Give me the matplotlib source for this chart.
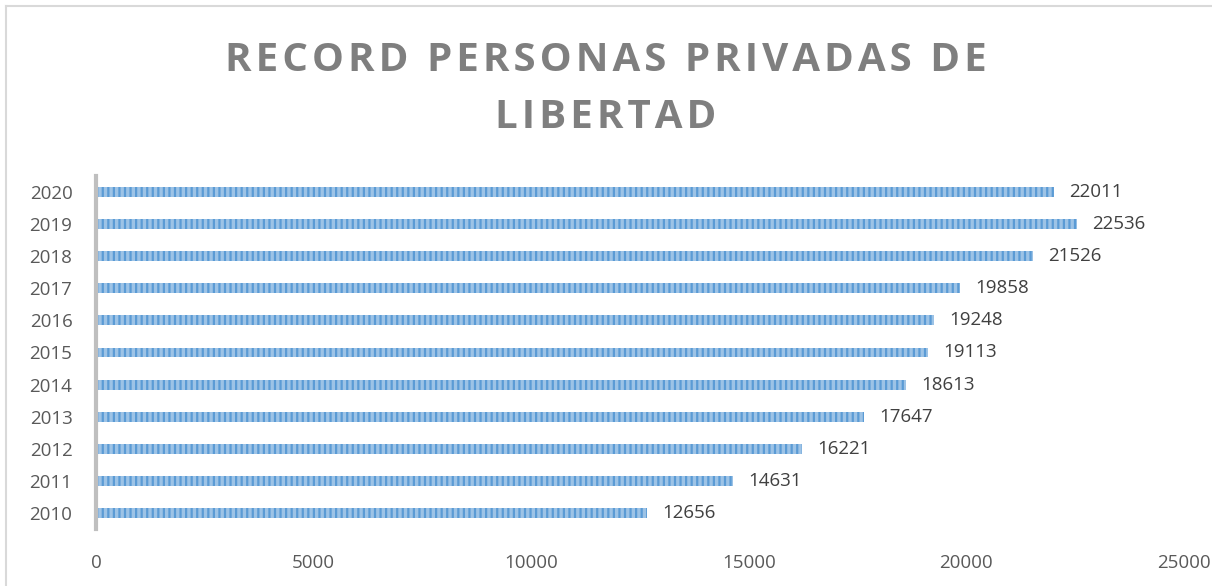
import matplotlib.pyplot as plt
from matplotlib.lines import Line2D

years = ['2010', '2011', '2012', '2013', '2014', '2015', '2016', '2017', '2018', '2019', '2020']
values = [12656, 14631, 16221, 17647, 18613, 19113, 19248, 19858, 21526, 22536, 22011]
xticks = [0, 5000, 10000, 15000, 20000, 25000]
title_lines = ['RECORD PERSONAS PRIVADAS DE', 'LIBERTAD']

plt.rcParams['font.family'] = ['Open Sans', 'DejaVu Sans']
plt.rcParams['hatch.linewidth'] = 1.6

fig = plt.figure(figsize=(12.12, 5.86), dpi=100)
ax = fig.add_axes([0.0792, 0.0973, 0.8977, 0.6024])

ax.barh(range(len(years)), values, height=0.31, color='#9DC3E6',
        edgecolor='#5B9BD5', hatch='|||', linewidth=0)
for i, v in enumerate(values):
    ax.annotate(str(v), (v, i), xytext=(11, 0), textcoords='offset points',
                va='center', ha='left', fontsize=13.5, color='#404040')

ax.set_xlim(0, 25000)
ax.set_ylim(-0.5, len(years) - 0.5)
ax.set_xticks(xticks)
ax.set_xticklabels([str(t) for t in xticks])
ax.set_yticks(range(len(years)))
ax.set_yticklabels(years)
ax.tick_params(axis='both', length=0, labelsize=13.5, labelcolor='#595959')
ax.tick_params(axis='x', pad=18)
ax.tick_params(axis='y', pad=17)
for s in ['top', 'right', 'bottom']:
    ax.spines[s].set_visible(False)
ax.spines['left'].set_color('#BFBFBF')
ax.spines['left'].set_linewidth(3)

# spaced-out title, like the original
for txt, y in zip(title_lines, [0.897, 0.800]):
    fig.text(0.5, y, '\u200a'.join(txt), ha='center', va='center',
             fontsize=29, fontweight='bold', color='#7F7F7F')

# chart frame (only top and left edges visible)
fig.add_artist(Line2D([0.005, 1.0], [0.989, 0.989], transform=fig.transFigure,
                      color='#D9D9D9', linewidth=1.5))
fig.add_artist(Line2D([0.005, 0.005], [0.0, 0.989], transform=fig.transFigure,
                      color='#D9D9D9', linewidth=1.5))

fig.savefig('out.png', dpi=100)
